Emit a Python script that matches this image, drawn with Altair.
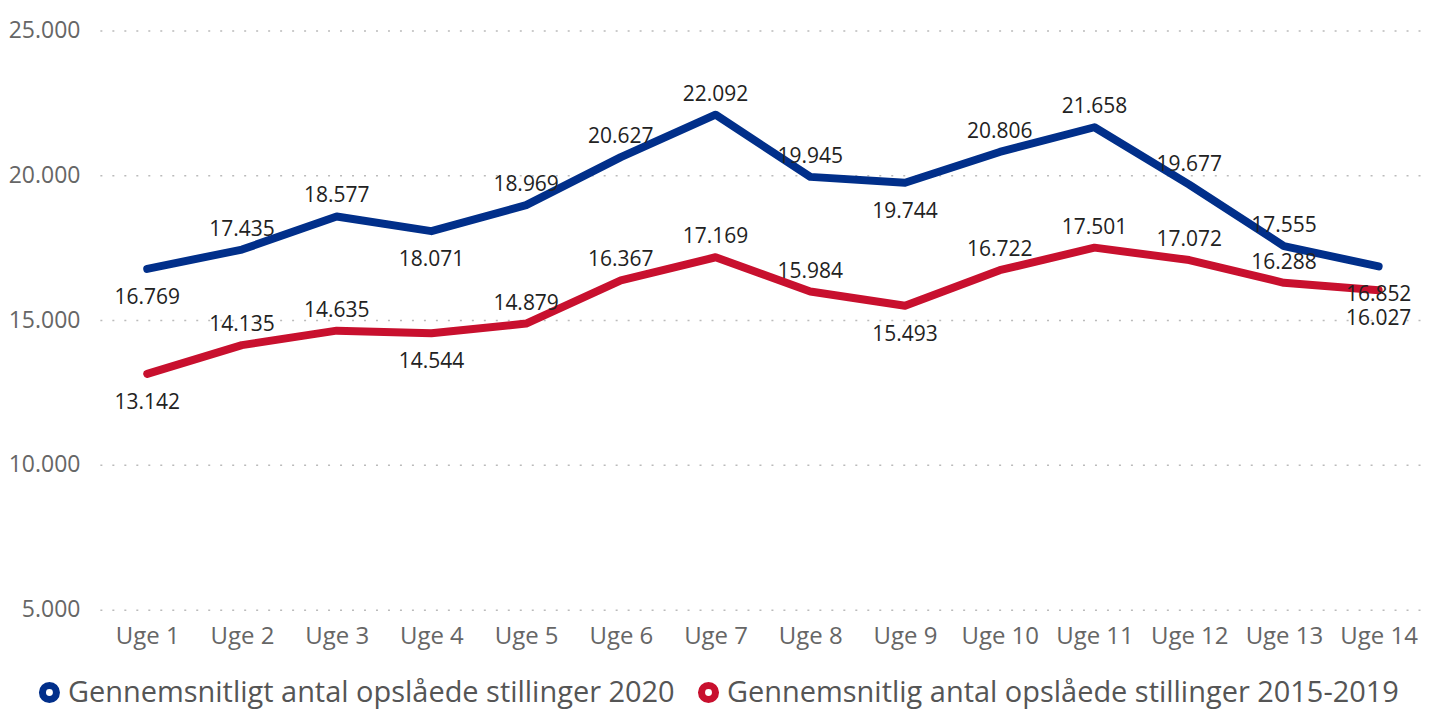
import altair as alt
import pandas as pd

weeks = [f"Uge {i}" for i in range(1, 15)]
series_2020 = [16769, 17435, 18577, 18071, 18969, 20627, 22092, 19945, 19744, 20806, 21658, 19677, 17555, 16852]
series_avg = [13142, 14135, 14635, 14544, 14879, 16367, 17169, 15984, 15493, 16722, 17501, 17072, 16288, 16027]
name_2020 = "Gennemsnitligt antal opslåede stillinger 2020"
name_avg = "Gennemsnitlig antal opslåede stillinger 2015-2019"
y_ticks = [5000, 10000, 15000, 20000, 25000]

rows = []
for name, vals in [(name_2020, series_2020), (name_avg, series_avg)]:
    for i, (w, v) in enumerate(zip(weeks, vals)):
        prev_v = vals[i - 1] if i > 0 else None
        next_v = vals[i + 1] if i < len(vals) - 1 else None
        local_min = all(n is None or v < n for n in (prev_v, next_v))
        rows.append({
            "week": w, "value": v, "series": name,
            "label": f"{v:,}".replace(",", "."),
            "below": local_min,
        })
df = pd.DataFrame(rows)

FONT = "Open Sans"
color = alt.Color(
    "series:N",
    scale=alt.Scale(domain=[name_2020, name_avg], range=["#012F8A", "#C8102E"]),
    legend=alt.Legend(
        title=None, orient="none", direction="horizontal",
        legendX=-65, legendY=648,
        symbolType="circle", symbolSize=50, symbolStrokeWidth=14,
        labelFontSize=29, labelColor="#555555", labelFont=FONT,
        labelLimit=900, columnPadding=0, symbolOffset=0, labelOffset=4,
    ),
)

x = alt.X("week:N", sort=weeks, title=None,
          scale=alt.Scale(paddingOuter=0.5),
          axis=alt.Axis(labelAngle=0, labelFontSize=24, labelColor="#666666", labelFont=FONT,
                        domain=False, ticks=False, labelPadding=15, grid=False))
y = alt.Y("value:Q", title=None,
          scale=alt.Scale(domain=[5000, 25000], nice=False, zero=False),
          axis=alt.Axis(values=y_ticks, labelFontSize=23, labelColor="#666666", labelFont=FONT,
                        labelExpr="replace(format(datum.value, ','), ',', '.')",
                        domain=False, ticks=False, labelPadding=20,
                        grid=True, gridColor="#BBBBBB", gridDash=[2, 10], gridWidth=1.5))

base = alt.Chart(df)
lines = base.mark_line(strokeCap="round", strokeJoin="round").encode(
    x=x, y=y, color=color, strokeWidth=alt.value(8))
above = base.transform_filter("!datum.below").mark_text(
    baseline="bottom", dy=-10, fontSize=21, font=FONT, color="#222222").encode(
    x=alt.X("week:N", sort=weeks), y="value:Q", text="label:N")
below = base.transform_filter("datum.below").mark_text(
    baseline="top", dy=18, fontSize=21, font=FONT, color="#222222").encode(
    x=alt.X("week:N", sort=weeks), y="value:Q", text="label:N")

chart = alt.layer(lines, above, below).properties(
    width=1328, height=580, padding={"left": 0, "top": 11, "right": 0, "bottom": 0}
).configure_view(stroke=None)

chart.save("out.html", embed_options={"renderer": "svg", "actions": False})
